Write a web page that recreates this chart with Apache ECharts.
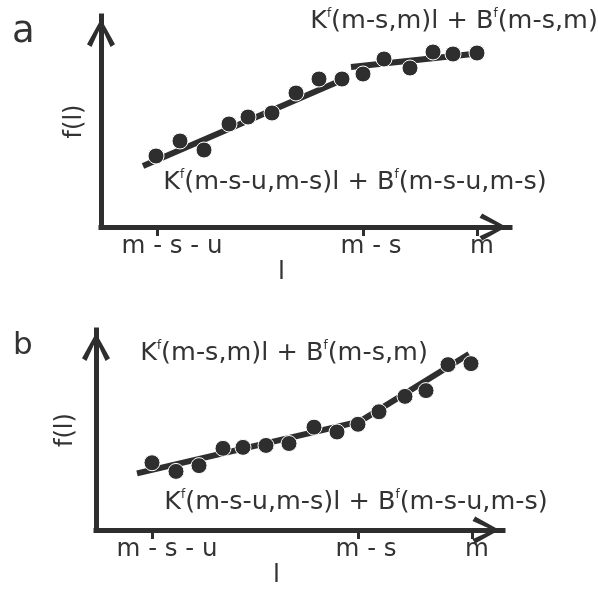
<!DOCTYPE html>
<html>
<head>
<meta charset="utf-8">
<script src="https://cdn.jsdelivr.net/npm/echarts@6/dist/echarts.min.js"></script>
<style>html,body{margin:0;padding:0;background:#fff}#c{width:598px;height:589px}</style>
</head>
<body>
<div id="c"></div>
<script>
// ---- data ----
// Panel a
const aX = [55, 79, 103, 128, 147, 171, 195, 218, 241, 262, 283, 309, 332, 352, 376];
const aY = [71, 86, 77, 103, 110, 114, 134, 148, 148, 153, 168, 159, 175, 173, 174];
const aSeg1X = [42, 248];
const aSeg1Y = [61, 150];
const aSeg2X = [250, 381];
const aSeg2Y = [160, 174];
// Panel b
const bX = [56, 80, 103, 127, 147, 170, 193, 218, 241, 262, 283, 309, 330, 352, 375];
const bY = [70, 61, 67, 85, 86, 88, 90, 107, 102, 110, 123, 139, 145, 172, 173];
const bLineX = [41, 264, 373];
const bLineY = [59, 113, 183];
// ticks and tick labels
const tickValues = [56, 262, 376];
const labelValues = [71, 270, 381];
const tickLabels = ['m - s - u', 'm - s', 'm'];
const xName = 'l';
const yName = 'f(l)';
const panelLetters = ['a', 'b'];
const eqTop = ['K', 'f', '(m-s,m)l + B', 'f', '(m-s,m)'];
const eqBottom = ['K', 'f', '(m-s-u,m-s)l + B', 'f', '(m-s-u,m-s)'];

const FONT = 'DejaVu Sans';
const INK = '#2e2e2e';
const TXT = '#333';

function pairs(xs, ys) { return xs.map((x, i) => [x, ys[i]]); }
function richEq(parts) {
  return parts.map((p, i) => (i % 2 === 1 ? '{s|' + p + '}' : '{t|' + p + '}')).join('');
}
const rich = {
  t: { fontSize: 25.5, fontFamily: FONT, fill: TXT, color: TXT },
  s: { fontSize: 12, fontFamily: FONT, fill: TXT, color: TXT, verticalAlign: 'top', lineHeight: 22 }
};

const arrowPath = 'path://M50 0 L100 90 L84 100 L50 26 L16 100 L0 90 Z';

function xAxisDef(grid, max, padRight) {
  return {
    type: 'value', gridIndex: grid, min: 0, max: max,
    axisLine: { show: true, onZero: false, symbol: ['none', arrowPath], symbolSize: [27, 40], symbolOffset: [0, -17],
      lineStyle: { color: INK, width: 5, cap: 'square' } },
    axisTick: { show: true, customValues: tickValues, length: 9, inside: false, lineStyle: { color: INK, width: 3 } },
    axisLabel: { show: true, customValues: labelValues, margin: 7,
      formatter: function (v) { const i = labelValues.indexOf(v); return i >= 0 ? tickLabels[i] : ''; },
      fontFamily: FONT, fontSize: 24.5, color: TXT },
    splitLine: { show: false },
    name: xName, nameLocation: 'middle', nameGap: 28,
    nameTextStyle: { fontFamily: FONT, fontSize: 25, color: TXT, padding: [0, padRight, 0, 0] }
  };
}
function yAxisDef(grid, max, gap) {
  return {
    type: 'value', gridIndex: grid, min: 0, max: max,
    axisLine: { show: true, onZero: false, symbol: ['none', arrowPath], symbolSize: [28, 40], symbolOffset: [0, -17],
      lineStyle: { color: INK, width: 5, cap: 'square' } },
    axisTick: { show: false }, axisLabel: { show: false }, splitLine: { show: false },
    name: yName, nameLocation: 'middle', nameRotate: 90, nameGap: gap,
    nameTextStyle: { fontFamily: FONT, fontSize: 24, color: TXT }
  };
}
function scatter(i, xs, ys) {
  return { type: 'scatter', xAxisIndex: i, yAxisIndex: i, data: pairs(xs, ys), symbolSize: 16, z: 5,
    itemStyle: { color: INK, borderColor: '#fff', borderWidth: 1, opacity: 1 } };
}
function line(i, xs, ys) {
  return { type: 'line', xAxisIndex: i, yAxisIndex: i, data: pairs(xs, ys), showSymbol: false, z: 3,
    lineStyle: { color: INK, width: 6 }, silent: true };
}

const chart = echarts.init(document.getElementById('c'), null, { renderer: 'canvas' });
chart.setOption({
  animation: false,
  backgroundColor: '#fff',
  title: [
    { text: panelLetters[0], left: 7, top: 9, textStyle: { fontFamily: FONT, fontSize: 37, fontWeight: 'normal', color: TXT } },
    { text: panelLetters[1], left: 8, top: 325, textStyle: { fontFamily: FONT, fontSize: 31, fontWeight: 'normal', color: TXT } }
  ],
  grid: [
    { left: 101, top: 16, right: 88, bottom: 362, containLabel: false },
    { left: 96, top: 330, right: 95, bottom: 51, containLabel: false }
  ],
  xAxis: [xAxisDef(0, 409, 48), xAxisDef(1, 407, 46)],
  yAxis: [yAxisDef(0, 211, 14), yAxisDef(1, 208, 18)],
  series: [
    line(0, aSeg1X, aSeg1Y), line(0, aSeg2X, aSeg2Y), scatter(0, aX, aY),
    line(1, bLineX, bLineY), scatter(1, bX, bY)
  ],
  graphic: [
    { type: 'text', x: 454, y: 21, style: { text: richEq(eqTop), rich: rich, align: 'center', verticalAlign: 'middle' } },
    { type: 'text', x: 355, y: 182, style: { text: richEq(eqBottom), rich: rich, align: 'center', verticalAlign: 'middle' } },
    { type: 'text', x: 284, y: 353, style: { text: richEq(eqTop), rich: rich, align: 'center', verticalAlign: 'middle' } },
    { type: 'text', x: 356, y: 502, style: { text: richEq(eqBottom), rich: rich, align: 'center', verticalAlign: 'middle' } }
  ]
});
</script>
</body>
</html>
